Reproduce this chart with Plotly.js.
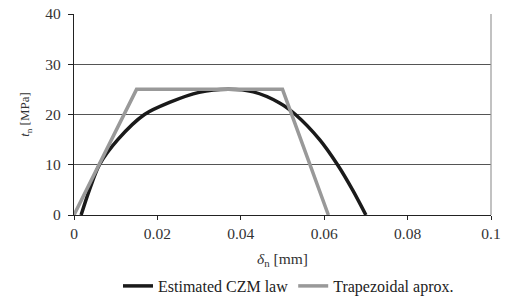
<!DOCTYPE html>
<html>
<head>
<meta charset="utf-8">
<script src="https://cdn.plot.ly/plotly-3.0.1.min.js"></script>
<style>html,body{margin:0;padding:0;background:#fff;}#chart{width:505px;height:302px;}</style>
</head>
<body>
<div id="chart"></div>
<script>
// Estimated CZM law
const czmDelta = [0.0017, 0.0037, 0.0061, 0.0105, 0.0169, 0.0229, 0.0300, 0.0370, 0.0430, 0.0493, 0.0531, 0.0589, 0.0632, 0.0668, 0.0700];
const czmT     = [0,      5,      10,     15,     20,     22.4,   24.4,   25.0,   24.5,   22.3,   20.0,   15.0,   10.0,   5.0,    0];
// Trapezoidal approximation
const trapDelta = [0, 0.015, 0.050, 0.061];
const trapT     = [0, 25,    25,    0];
const seriesNames = ["Estimated CZM law", "Trapezoidal aprox."];
const xTicks = [0, 0.02, 0.04, 0.06, 0.08, 0.1];
const xTickLabels = ["0", "0.02", "0.04", "0.06", "0.08", "0.1"];
const yTicks = [0, 10, 20, 30, 40];

const font = "Liberation Serif";
const traces = [
  {x: czmDelta, y: czmT, name: seriesNames[0], mode: "lines",
   line: {color: "#1a1a1a", width: 3.5, shape: "spline", smoothing: 0.8}},
  {x: trapDelta, y: trapT, name: seriesNames[1], mode: "lines",
   line: {color: "#999999", width: 3.5}}
];
const layout = {
  width: 505, height: 302,
  margin: {l: 74, r: 13.5, t: 14, b: 86.5},
  paper_bgcolor: "#fff", plot_bgcolor: "#fff",
  font: {family: font, size: 15.5, color: "#333"},
  showlegend: true,
  legend: {orientation: "h", x: 118/505, xref: "container", xanchor: "left", y: 16/302, yref: "container", yanchor: "middle",
           font: {family: font, size: 16, color: "#222"}, itemwidth: 30},
  xaxis: {range: [0, 0.1], tickvals: xTicks, ticktext: xTickLabels, showgrid: false, zeroline: false,
          showline: true, linecolor: "#222", linewidth: 1.2, ticks: "outside", ticklen: 4, tickcolor: "#222",
          tickfont: {family: font, size: 15.5, color: "#333"},
          title: {text: "<i>δ</i><sub>n</sub> [mm]", font: {family: font, size: 15.5, color: "#333"}, standoff: 14}},
  yaxis: {range: [0, 40], tickvals: yTicks, showgrid: true, gridcolor: "#555", gridwidth: 1, zeroline: false,
          showline: true, linecolor: "#222", linewidth: 1.2, ticks: "outside", ticklen: 5, tickcolor: "#222",
          ticklabelstandoff: 4,
          tickfont: {family: font, size: 15.5, color: "#333"},
          title: {text: "<i>t</i><sub>n</sub> [MPa]", font: {family: font, size: 13, color: "#333"}, standoff: 12}},
  shapes: [{type: "line", xref: "paper", yref: "paper", x0: 1, x1: 1, y0: 0, y1: 1,
            line: {color: "#999", width: 1.2}}]
};
Plotly.newPlot("chart", traces, layout, {staticPlot: true, displayModeBar: false});
</script>
</body>
</html>
